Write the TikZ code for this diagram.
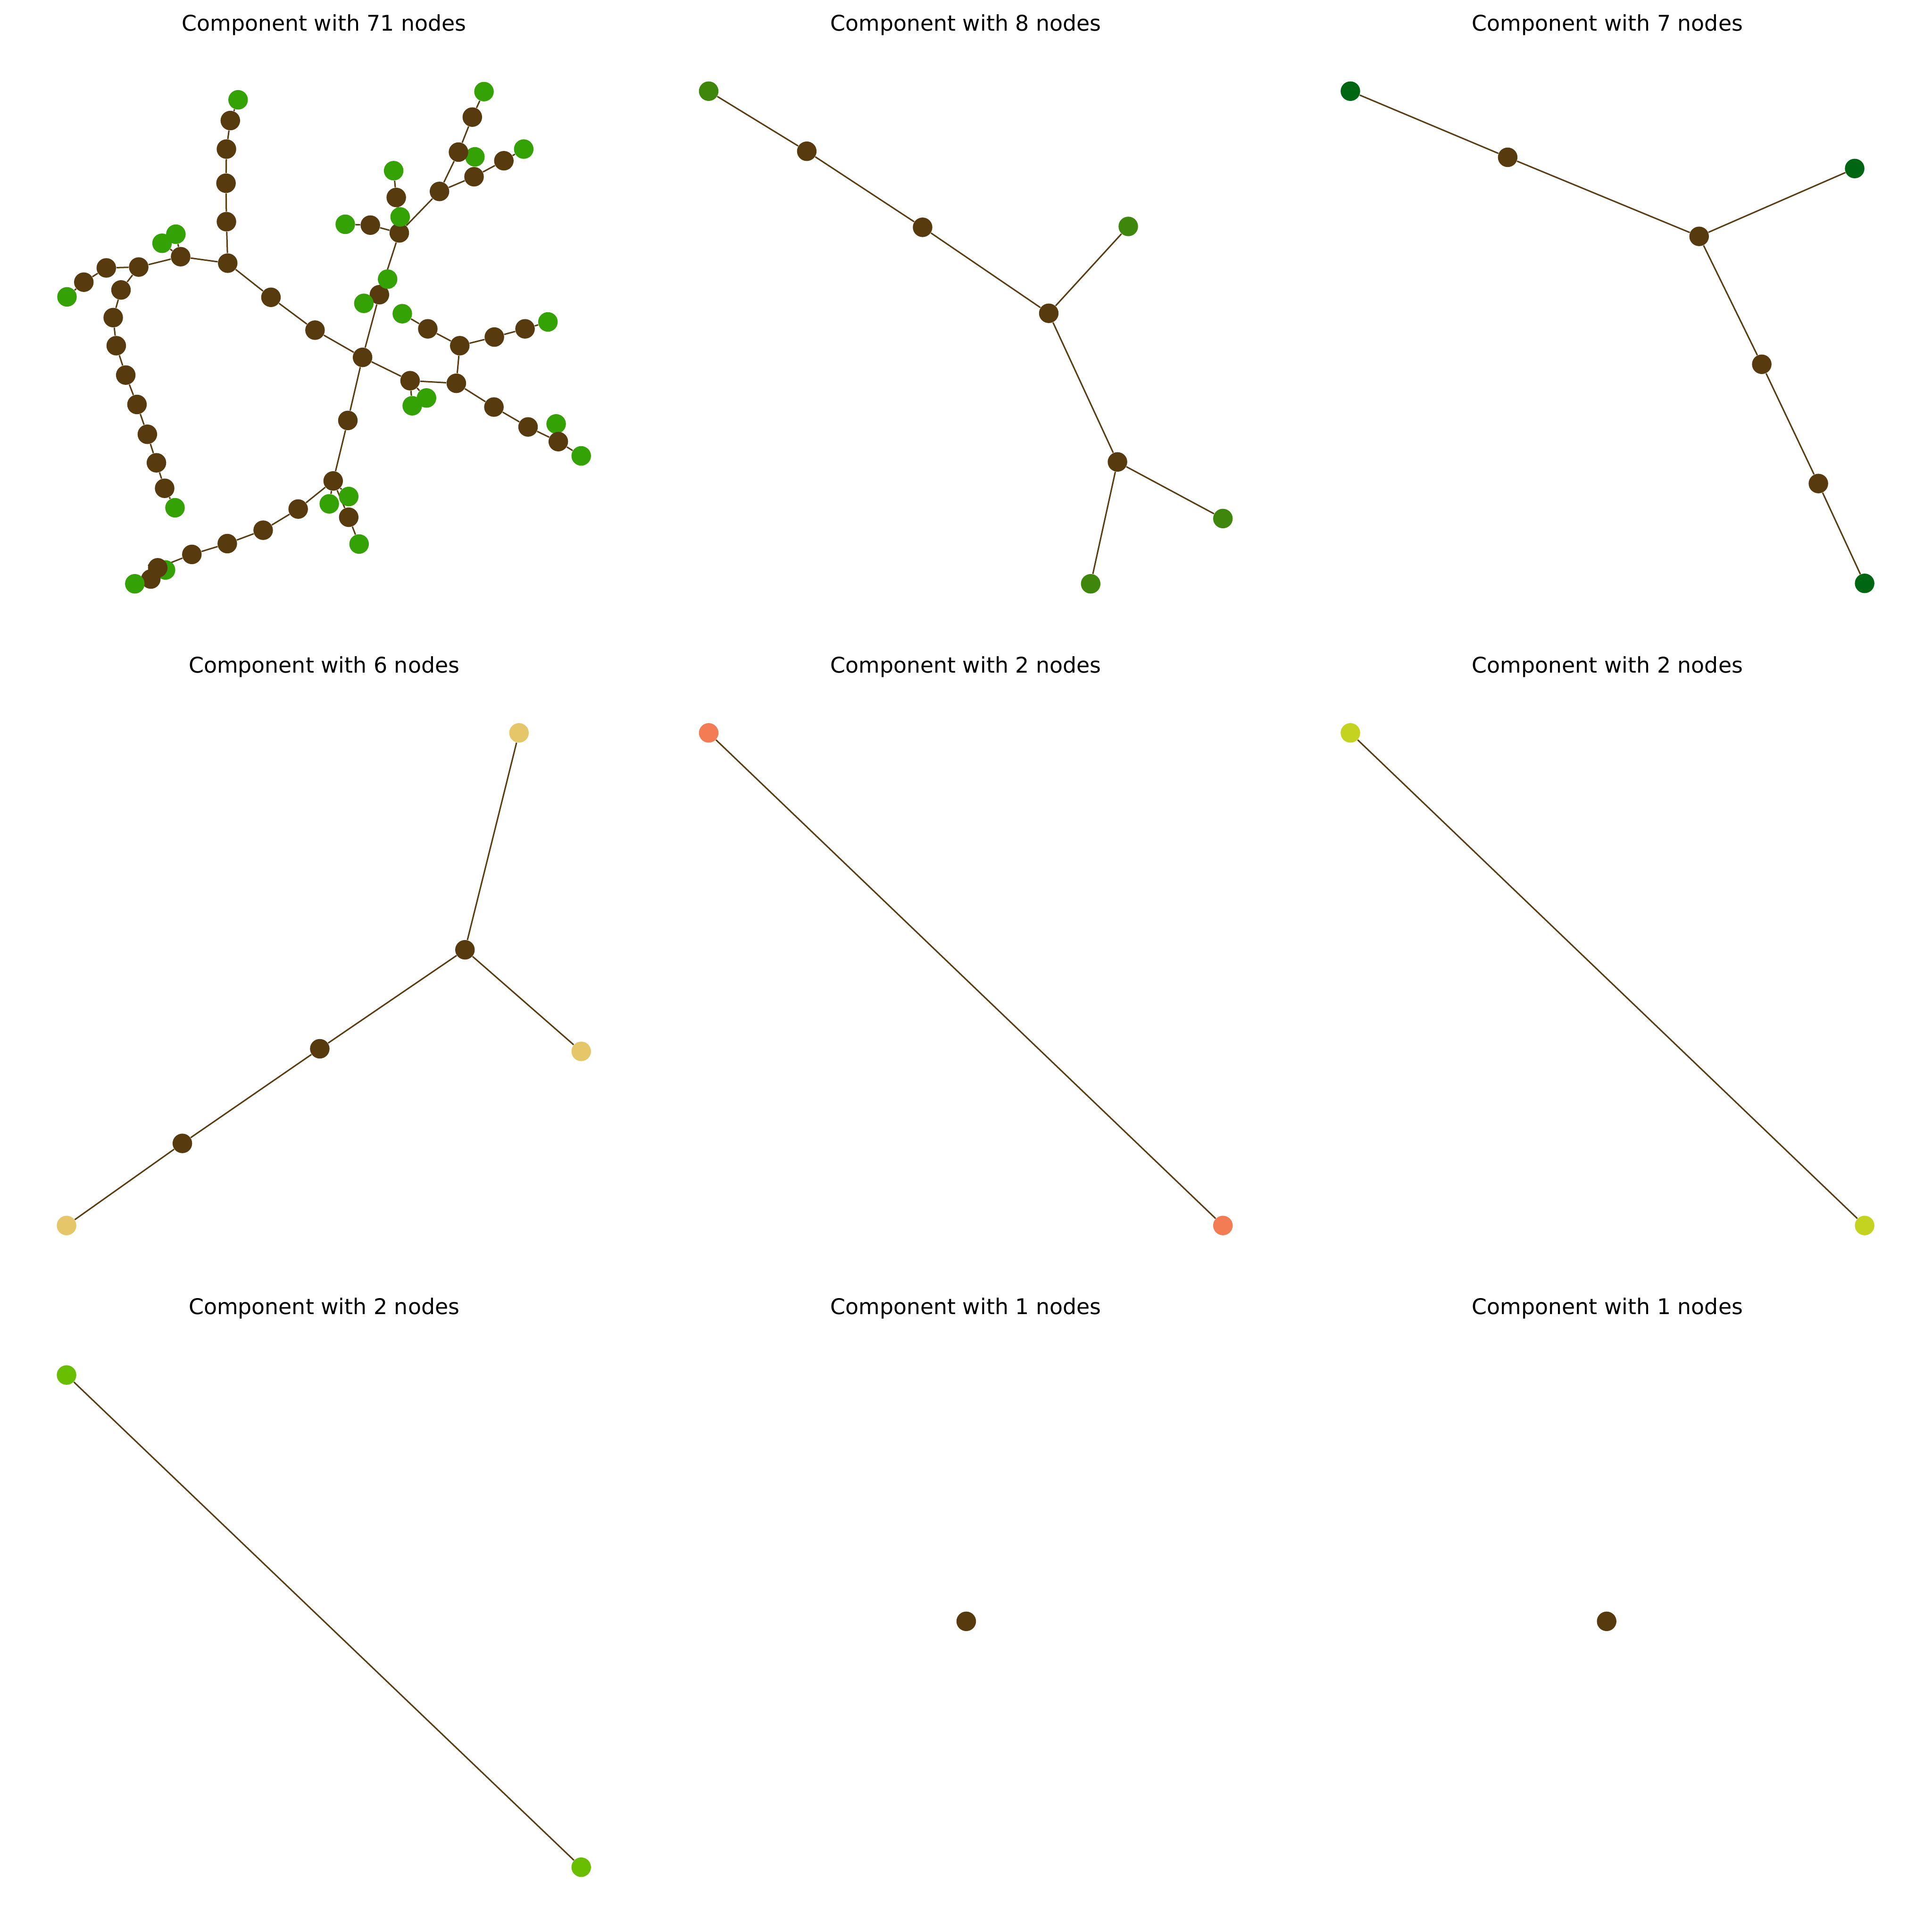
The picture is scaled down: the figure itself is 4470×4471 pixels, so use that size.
\documentclass[tikz,border=0pt]{standalone}
\usepackage{fontspec}
\setmainfont{DejaVu Sans}
\definecolor{nbrown}{RGB}{88,58,15}
\definecolor{ebrown}{RGB}{90,60,18}
\definecolor{gA}{RGB}{52,161,4}
\definecolor{gB}{RGB}{62,135,12}
\definecolor{gC}{RGB}{0,102,18}
\definecolor{yD}{RGB}{229,199,106}
\definecolor{cE}{RGB}{244,124,84}
\definecolor{yF}{RGB}{195,211,31}
\definecolor{lG}{RGB}{106,190,2}
\pgfdeclarelayer{bg}
\pgfsetlayers{bg,main}
\tikzset{
  dot/.style={circle,inner sep=0pt,minimum size=11.3pt,fill=#1},
  bn/.style={dot=nbrown},
  edge/.style={draw=ebrown,line width=0.82pt},
  ttl/.style={anchor=base,font=\fontsize{12.5}{15}\selectfont}
}
\begin{document}
\begin{tikzpicture}[x=0.25pt,y=-0.25pt]
\useasboundingbox (0,0) rectangle (4470,4471);
% titles
\node[ttl] (t1) at (750,72) {Component with 71 nodes};
\node[ttl] (t2) at (2235,72) {Component with 8 nodes};
\node[ttl] (t3) at (3720,72) {Component with 7 nodes};
\node[ttl] (t4) at (750,1557) {Component with 6 nodes};
\node[ttl] (t5) at (2235,1557) {Component with 2 nodes};
\node[ttl] (t6) at (3720,1557) {Component with 2 nodes};
\node[ttl] (t7) at (750,3042) {Component with 2 nodes};
\node[ttl] (t8) at (2235,3042) {Component with 1 nodes};
\node[ttl] (t9) at (3720,3042) {Component with 1 nodes};
% ---- component 1: greens lying underneath
\node[dot=gA] (n36) at (383,1319) {};
\node[dot=gA] (n53) at (1287,981) {};
\node[dot=gA] (n58) at (1099,363) {};
\node[dot=gA] (n10) at (407,542) {};
\node[dot=gA] (n41) at (987,921) {};
% browns
\node[bn] (n38) at (349,1340) {};
\node[bn] (n2) at (533,279) {};
\node[bn] (n3) at (524,345) {};
\node[bn] (n4) at (523,424) {};
\node[bn] (n5) at (524,513) {};
\node[bn] (n6) at (527,609) {};
\node[bn] (n7) at (627,688) {};
\node[bn] (n8) at (729,764) {};
\node[bn] (n9) at (418,594) {};
\node[bn] (n12) at (321,618) {};
\node[bn] (n13) at (246,620) {};
\node[bn] (n14) at (194,653) {};
\node[bn] (n16) at (280,671) {};
\node[bn] (n17) at (262,735) {};
\node[bn] (n18) at (269,800) {};
\node[bn] (n19) at (291,868) {};
\node[bn] (n20) at (317,936) {};
\node[bn] (n21) at (341,1005) {};
\node[bn] (n22) at (362,1071) {};
\node[bn] (n23) at (381,1130) {};
\node[bn] (n25) at (839,827) {};
\node[bn] (n26) at (805,973) {};
\node[bn] (n27) at (771,1113) {};
\node[bn] (n30) at (807,1197) {};
\node[bn] (n32) at (690,1178) {};
\node[bn] (n33) at (609,1227) {};
\node[bn] (n34) at (526,1258) {};
\node[bn] (n35) at (444,1283) {};
\node[bn] (n37) at (365,1314) {};
\node[bn] (n40) at (949,881) {};
\node[bn] (n43) at (1056,887) {};
\node[bn] (n44) at (1064,800) {};
\node[bn] (n45) at (990,761) {};
\node[bn] (n47) at (1144,780) {};
\node[bn] (n48) at (1215,761) {};
\node[bn] (n50) at (1143,942) {};
\node[bn] (n51) at (1222,988) {};
\node[bn] (n52) at (1292,1022) {};
\node[bn] (n56) at (1093,271) {};
\node[bn] (n57) at (1061,352) {};
\node[bn] (n59) at (1166,372) {};
\node[bn] (n61) at (1097,409) {};
\node[bn] (n62) at (1017,443) {};
\node[bn] (n64) at (917,457) {};
\node[bn] (n66) at (857,521) {};
\node[bn] (n68) at (924,539) {};
\node[bn] (n70) at (878,682) {};
% greens on top
\node[dot=gA] (n1) at (551,231) {};
\node[dot=gA] (n11) at (375,563) {};
\node[dot=gA] (n15) at (155,687) {};
\node[dot=gA] (n24) at (405,1175) {};
\node[dot=gA] (n28) at (762,1166) {};
\node[dot=gA] (n29) at (807,1149) {};
\node[dot=gA] (n31) at (831,1259) {};
\node[dot=gA] (n39) at (312,1351) {};
\node[dot=gA] (n42) at (954,939) {};
\node[dot=gA] (n46) at (931,726) {};
\node[dot=gA] (n49) at (1268,745) {};
\node[dot=gA] (n54) at (1345,1055) {};
\node[dot=gA] (n55) at (1120,212) {};
\node[dot=gA] (n60) at (1212,345) {};
\node[dot=gA] (n63) at (911,395) {};
\node[dot=gA] (n65) at (926,502) {};
\node[dot=gA] (n67) at (799,519) {};
\node[dot=gA] (n69) at (897,646) {};
\node[dot=gA] (n71) at (842,702) {};
% ---- component 2
\node[dot=gB] (b1) at (1640,211) {};
\node[bn] (b2) at (1867,350) {};
\node[bn] (b3) at (2135,526) {};
\node[bn] (b4) at (2427,725) {};
\node[dot=gB] (b5) at (2611,524) {};
\node[bn] (b6) at (2586,1069) {};
\node[dot=gB] (b7) at (2830,1200) {};
\node[dot=gB] (b8) at (2524,1351) {};
% ---- component 3
\node[dot=gC] (c1) at (3125,211) {};
\node[bn] (c2) at (3489,364) {};
\node[bn] (c3) at (3932,547) {};
\node[dot=gC] (c4) at (4292,390) {};
\node[bn] (c5) at (4077,843) {};
\node[bn] (c6) at (4208,1119) {};
\node[dot=gC] (c7) at (4315,1350) {};
% ---- component 4
\node[dot=yD] (d1) at (1201,1696) {};
\node[bn] (d2) at (1076,2198) {};
\node[dot=yD] (d3) at (1345,2433) {};
\node[bn] (d4) at (740,2427) {};
\node[bn] (d5) at (422,2646) {};
\node[dot=yD] (d6) at (154,2836) {};
% ---- components 5-9
\node[dot=cE] (e1) at (1640,1696) {};
\node[dot=cE] (e2) at (2830,2836) {};
\node[dot=yF] (f1) at (3125,1696) {};
\node[dot=yF] (f2) at (4315,2836) {};
\node[dot=lG] (h1) at (154,3182) {};
\node[dot=lG] (h2) at (1345,4321) {};
\node[bn] (i1) at (2236,3752) {};
\node[bn] (j1) at (3718,3752) {};
% ---- edges
\begin{pgfonlayer}{bg}
\foreach \a/\b in {n1/n2,n2/n3,n3/n4,n4/n5,n5/n6,n6/n9,n6/n7,n7/n8,n8/n25,
  n9/n10,n9/n11,n9/n12,n12/n13,n12/n16,n13/n14,n14/n15,n16/n17,n17/n18,n18/n19,
  n19/n20,n20/n21,n21/n22,n22/n23,n23/n24,
  n25/n26,n25/n40,n25/n70,n26/n27,n27/n28,n27/n29,n27/n30,n30/n31,n27/n32,
  n32/n33,n33/n34,n34/n35,n35/n37,n37/n36,n37/n38,n38/n39,
  n40/n41,n40/n42,n40/n43,n43/n44,n43/n50,n44/n45,n45/n46,n44/n47,n47/n48,
  n48/n49,n50/n51,n51/n52,n52/n53,n52/n54,
  n70/n69,n70/n71,n70/n68,n68/n66,n66/n67,n68/n62,n68/n64,n64/n63,n64/n65,
  n62/n61,n61/n59,n59/n60,n62/n57,n57/n58,n57/n56,n56/n55,
  b1/b2,b2/b3,b3/b4,b4/b5,b4/b6,b6/b7,b6/b8,
  c1/c2,c2/c3,c3/c4,c3/c5,c5/c6,c6/c7,
  d1/d2,d2/d3,d2/d4,d4/d5,d5/d6,
  e1/e2,f1/f2,h1/h2}
  \draw[edge] (\a) -- (\b);
\end{pgfonlayer}
\end{tikzpicture}
\end{document}
